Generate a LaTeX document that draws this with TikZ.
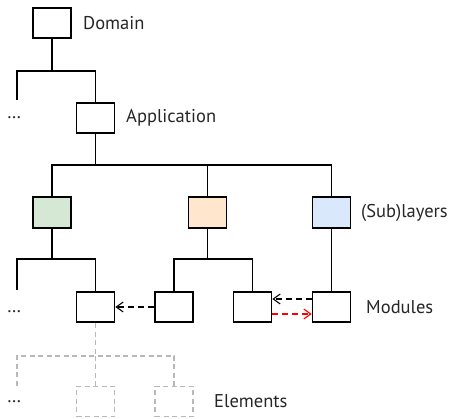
\documentclass[tikz,border=0pt]{standalone}
\usepackage{fontspec}
\setmainfont{PT Sans}
\usetikzlibrary{arrows.meta}
\definecolor{lgreen}{HTML}{D5E8D4}
\definecolor{lorange}{HTML}{FFE6CC}
\definecolor{lblue}{HTML}{DAE8FC}
\definecolor{ghost}{HTML}{B8B8B8}
\tikzset{
  box/.style={draw, line width=1.6pt, minimum width=38pt, minimum height=30.5pt, inner sep=0pt},
  ghostbox/.style={draw=ghost, line width=1.2pt, dash pattern=on 5pt off 3.5pt, minimum width=38pt, minimum height=30.5pt, inner sep=0pt},
  branch/.style={line width=1.6pt},
  ghostbranch/.style={draw=ghost, line width=1.2pt, dash pattern=on 5pt off 3.5pt},
  dep/.style={line width=1.6pt, dash pattern=on 6pt off 4pt, -{Straight Barb[length=7pt,width=10pt,line width=1.1pt]}},
  lbl/.style={anchor=west, inner sep=0pt, font=\fontsize{18.5}{22}\selectfont, text=black!85},
}
\begin{document}
\begin{tikzpicture}[x=1pt, y=-1pt]
\useasboundingbox (0,0) rectangle (455,419);

% levels of the hierarchy
\node[box] (dom) at (52,23) {};
\node[box] (app) at (95.5,118) {};
\node[box, fill=lgreen]  (sl1) at (52,212.5) {};
\node[box, fill=lorange] (sl2) at (207.5,212.5) {};
\node[box, fill=lblue]   (sl3) at (331.5,212.5) {};
\node[box] (m1) at (95.5,307) {};
\node[box] (m2) at (174,307) {};
\node[box] (m3) at (252.5,307) {};
\node[box] (m4) at (331.5,307) {};
\node[ghostbox] (e1) at (95.5,401.5) {};
\node[ghostbox] (e2) at (174,401.5) {};

% level names
\node[lbl] (tdom) at (83,23) {Domain};
\node[lbl] (tapp) at (126,118) {Application};
\node[lbl] (tsl)  at (361,212.5) {(Sub)layers};
\node[lbl] (tmod) at (366,307) {Modules};
\node[lbl] (tel)  at (214,401.5) {Elements};
\node[lbl] (dots1) at (7,118) {\dots};
\node[lbl] (dots2) at (7,312) {\dots};
\node[lbl] (dots3) at (7,401.5) {\dots};

% branch points and loose ends
\coordinate (jd) at (52,71);
\coordinate (dl) at (17,100);
\coordinate (ja) at (95.5,165);
\coordinate (jg) at (52,259);
\coordinate (gl) at (17,290);
\coordinate (jo) at (207.5,259);
\coordinate (je) at (95.5,356);
\coordinate (el) at (17,386);

% tree edges
\draw[branch] (dom.south) -- (jd);
\draw[branch] (dl) |- (jd) -| (app.north);
\draw[branch] (app.south) -- (ja);
\draw[branch] (sl1.north) |- (ja) -| (sl3.north);
\draw[branch] (sl2.north) -- (sl2.north |- ja);
\draw[branch] (sl1.south) -- (jg);
\draw[branch] (gl) |- (jg) -| (m1.north);
\draw[branch] (sl2.south) -- (jo);
\draw[branch] (m2.north) |- (jo) -| (m3.north);
\draw[branch] (sl3.south) -- (m4.north);
\draw[ghostbranch] (m1.south) -- (je);
\draw[ghostbranch] (el) |- (je) -| (e2.north);
\draw[ghostbranch] (je) -- (e1.north);

% dependencies between modules
\draw[dep] (m2.west) -- (m1.east);
\draw[dep] ([yshift=8pt]m4.west) -- ([yshift=8pt]m3.east);
\draw[dep, red] ([yshift=-7pt]m3.east) -- ([yshift=-7pt]m4.west);
\end{tikzpicture}
\end{document}
